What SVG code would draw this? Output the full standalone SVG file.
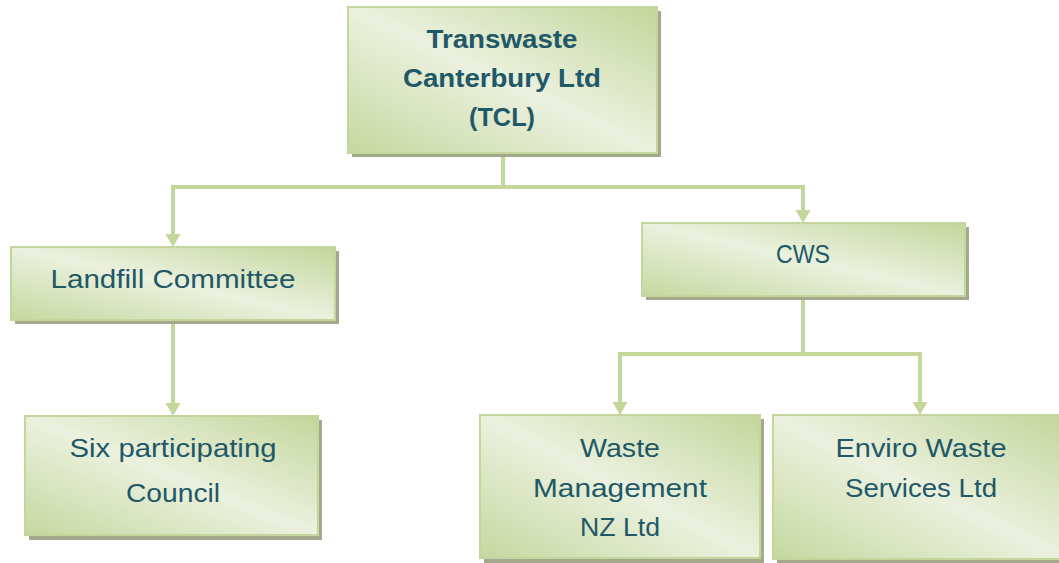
<svg xmlns="http://www.w3.org/2000/svg" width="1059" height="563" viewBox="0 0 1059 563">
<defs>
<linearGradient id="g" x1="1" y1="0" x2="0" y2="1">
<stop offset="0" stop-color="#c3d69b"/>
<stop offset="0.5" stop-color="#ebf1de"/>
<stop offset="1" stop-color="#c5d89f"/>
</linearGradient>
<path id="ah" d="M-7.5,-13 L7.5,-13 L0,0 Z" fill="#c3d69b"/>
</defs>
<style>
.box{fill:url(#g);stroke:#c3d69b;stroke-width:2}
.sh{fill:#a4a88d}
.t{font-family:"Liberation Sans",Arial,sans-serif;font-size:25px;fill:#215868;text-anchor:middle}
.b{font-weight:bold}
.c{fill:none;stroke:#c3d69b;stroke-width:4}
</style>
<rect width="1059" height="563" fill="#ffffff"/>
<g id="connectors">
<path class="c" d="M503,154 V187 H173 V236"/>
<path class="c" d="M503,187 H803 V212"/>
<path class="c" d="M173,321 V405"/>
<path class="c" d="M803,297 V354 H620 V404"/>
<path class="c" d="M803,354 H920 V404"/>
<use href="#ah" x="173" y="247"/>
<use href="#ah" x="803" y="223"/>
<use href="#ah" x="173" y="416"/>
<use href="#ah" x="620" y="415"/>
<use href="#ah" x="920" y="415"/>
</g>
<g id="tcl">
<rect class="sh" x="352" y="11" width="309" height="146"/>
<rect class="box" x="348" y="7" width="309" height="146"/>
<text class="t b" x="502" y="48" font-size="27" textLength="151" lengthAdjust="spacingAndGlyphs">Transwaste</text>
<text class="t b" x="502" y="87" font-size="27" textLength="198" lengthAdjust="spacingAndGlyphs">Canterbury Ltd</text>
<text class="t b" x="502" y="126" font-size="27" textLength="66" lengthAdjust="spacingAndGlyphs">(TCL)</text>
</g>
<g id="landfill">
<rect class="sh" x="15" y="251" width="324" height="73"/>
<rect class="box" x="11" y="247" width="324" height="73"/>
<text class="t" x="173" y="288" textLength="245" lengthAdjust="spacingAndGlyphs">Landfill Committee</text>
</g>
<g id="cws">
<rect class="sh" x="646" y="227" width="323" height="73"/>
<rect class="box" x="642" y="223" width="323" height="73"/>
<text class="t" x="803" y="263" textLength="54" lengthAdjust="spacingAndGlyphs">CWS</text>
</g>
<g id="six">
<rect class="sh" x="29" y="420" width="293" height="120"/>
<rect class="box" x="25" y="416" width="293" height="119"/>
<text class="t" x="173" y="457" textLength="207" lengthAdjust="spacingAndGlyphs">Six participating</text>
<text class="t" x="173" y="502" textLength="94" lengthAdjust="spacingAndGlyphs">Council</text>
</g>
<g id="wm">
<rect class="sh" x="484" y="419" width="280" height="144"/>
<rect class="box" x="480" y="415" width="280" height="143"/>
<text class="t" x="620" y="457" textLength="80" lengthAdjust="spacingAndGlyphs">Waste</text>
<text class="t" x="620" y="497" textLength="174" lengthAdjust="spacingAndGlyphs">Management</text>
<text class="t" x="620" y="536" textLength="80" lengthAdjust="spacingAndGlyphs">NZ Ltd</text>
</g>
<g id="enviro">
<rect class="sh" x="777" y="419" width="290" height="144"/>
<rect class="box" x="773" y="415" width="290" height="144"/>
<text class="t" x="921" y="457" textLength="171" lengthAdjust="spacingAndGlyphs">Enviro Waste</text>
<text class="t" x="921" y="497" textLength="152" lengthAdjust="spacingAndGlyphs">Services Ltd</text>
</g>
</svg>
